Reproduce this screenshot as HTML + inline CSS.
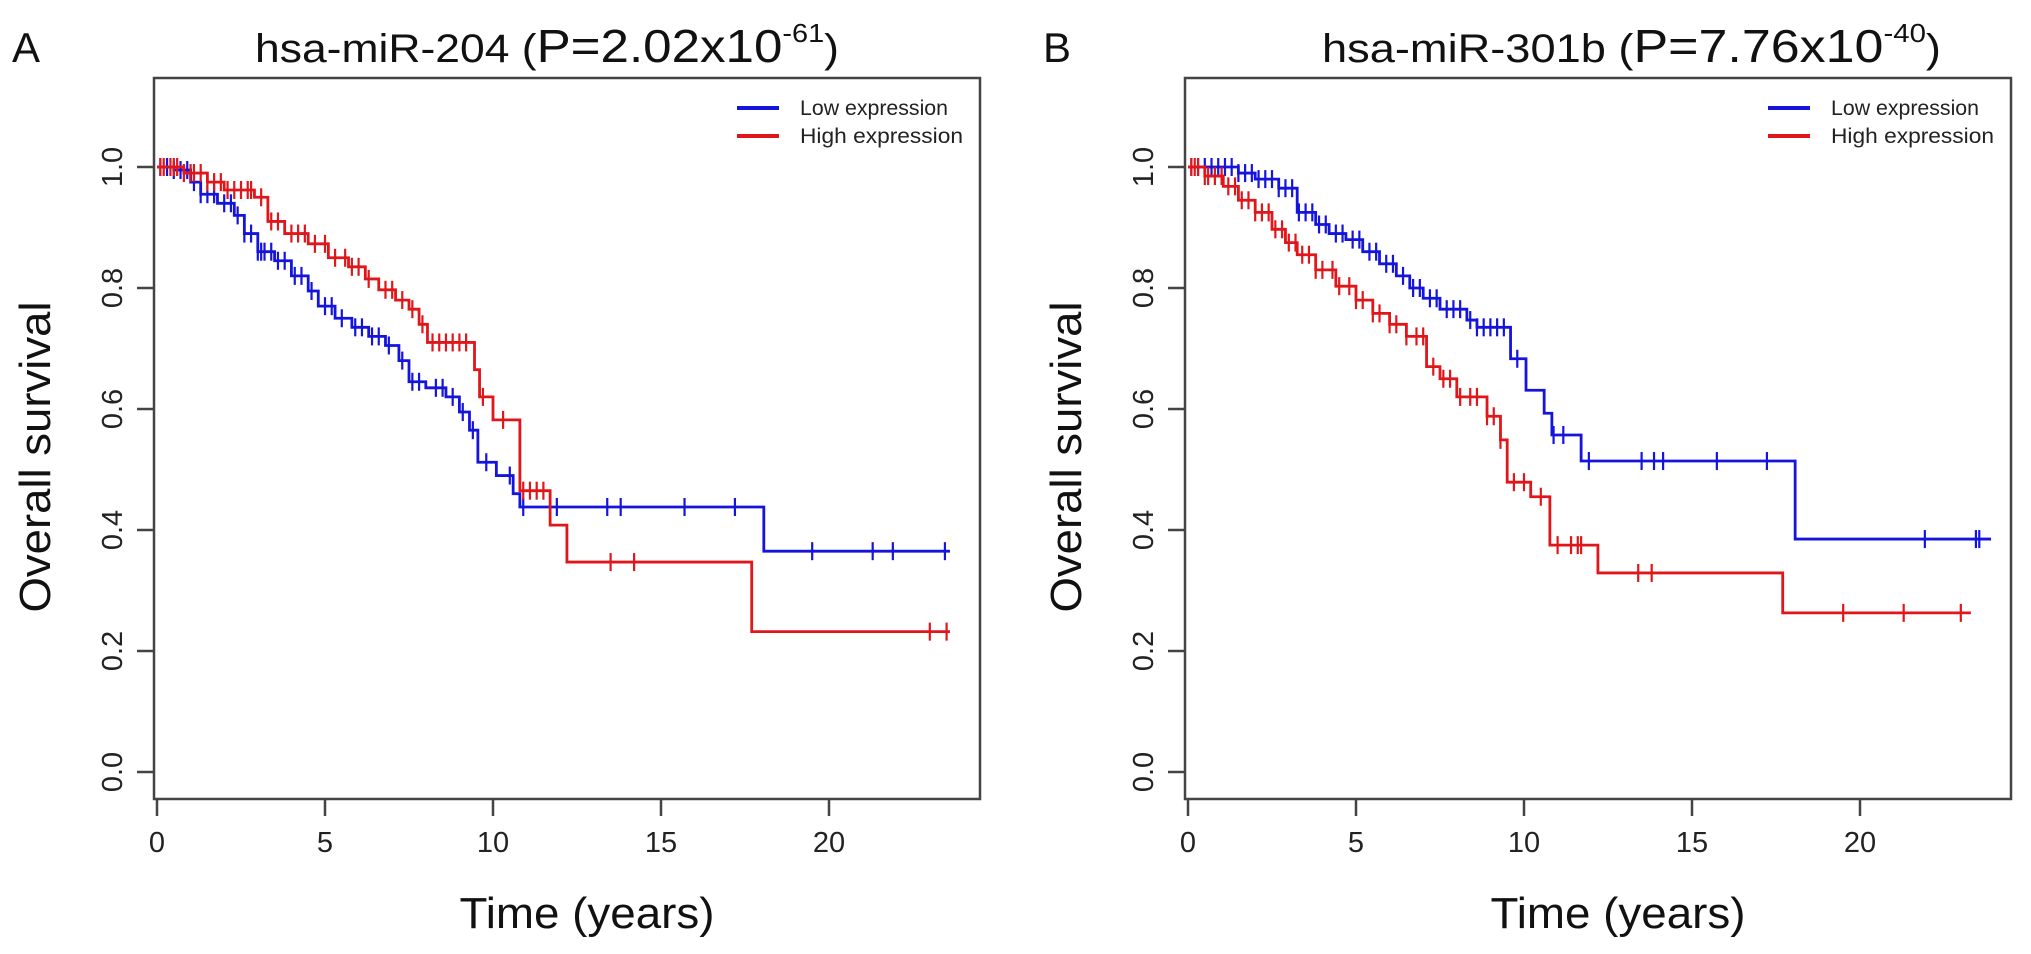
<!DOCTYPE html>
<html><head><meta charset="utf-8"><style>
html,body{margin:0;padding:0;background:#fff;}
svg{display:block;font-family:"Liberation Sans",Arial,sans-serif;}
</style></head><body>
<svg id="fig" width="2031" height="954" viewBox="0 0 2031 954" xmlns="http://www.w3.org/2000/svg"></svg>
<script>
// ---- data ----
const xTicks = [0, 5, 10, 15, 20];
const yTicks = [0.0, 0.2, 0.4, 0.6, 0.8, 1.0];
const yTickLabels = ["0.0", "0.2", "0.4", "0.6", "0.8", "1.0"];
const seriesNames = ["Low expression", "High expression"];

const aLowTimes = [0,0.5,1.0,1.3,1.8,2.3,2.6,3.0,3.5,4.0,4.5,4.8,5.3,5.8,6.3,6.8,7.2,7.5,8.0,8.6,9.0,9.3,9.55,10.1,10.6,10.8,18.06,23.6];
const aLowSurv  = [1.0,0.995,0.975,0.955,0.94,0.92,0.89,0.86,0.845,0.82,0.795,0.77,0.75,0.735,0.72,0.705,0.68,0.645,0.635,0.62,0.595,0.565,0.512,0.49,0.46,0.438,0.365,0.365];
const aLowCens  = [0.1,0.3,0.5,0.7,0.9,1.1,1.3,1.5,1.7,2.0,2.2,2.4,2.6,2.8,3.0,3.1,3.2,3.4,3.6,3.8,4.1,4.3,4.6,5.0,5.2,5.5,5.9,6.1,6.4,6.6,6.9,7.3,7.6,7.8,8.3,8.5,8.8,9.1,9.4,9.8,10.5,10.9,11.9,13.4,13.8,15.7,17.2,19.5,21.3,21.9,23.45];
const aHighTimes = [0,0.8,1.5,2.0,2.9,3.3,3.8,4.5,5.1,5.7,6.2,6.6,7.1,7.5,7.8,8.05,9.45,9.6,10.0,10.8,11.7,12.2,17.7,23.6];
const aHighSurv  = [1.0,0.99,0.975,0.962,0.95,0.91,0.89,0.873,0.85,0.835,0.815,0.797,0.78,0.765,0.74,0.71,0.665,0.62,0.582,0.465,0.408,0.347,0.232,0.232];
const aHighCens  = [0.1,0.2,0.4,0.5,0.6,0.8,1.0,1.1,1.3,1.5,1.7,1.9,2.1,2.3,2.5,2.7,2.8,3.1,3.4,3.6,4.0,4.2,4.4,4.7,5.0,5.3,5.6,5.8,6.0,6.3,6.8,7.0,7.3,7.6,7.9,8.2,8.4,8.6,8.8,9.0,9.2,9.7,10.3,10.9,11.1,11.3,11.5,13.5,14.2,23.0,23.5];

const bLowTimes = [0,1.5,2.0,2.7,3.25,3.8,4.2,4.7,5.2,5.7,6.2,6.6,7.0,7.5,8.3,8.6,9.6,10.06,10.6,10.83,11.7,18.07,23.9];
const bLowSurv  = [1.0,0.99,0.98,0.965,0.925,0.905,0.89,0.88,0.86,0.84,0.82,0.8,0.783,0.765,0.747,0.735,0.683,0.631,0.593,0.557,0.514,0.385,0.385];
const bLowCens  = [0.1,0.3,0.5,0.7,0.9,1.1,1.3,1.5,1.7,1.9,2.1,2.3,2.5,2.7,2.9,3.1,3.3,3.5,3.7,3.9,4.1,4.4,4.6,4.9,5.1,5.4,5.6,5.9,6.1,6.4,6.7,6.9,7.2,7.4,7.7,7.9,8.1,8.4,8.6,8.8,9.0,9.2,9.4,9.8,10.88,11.17,11.93,13.5,13.87,14.14,15.74,17.23,21.93,23.45,23.55];
const bHighTimes = [0,0.5,1.05,1.5,2.0,2.5,2.9,3.25,3.8,4.4,5.0,5.5,6.0,6.5,7.1,7.5,8.0,8.9,9.3,9.5,10.2,10.77,12.2,17.7,23.3];
const bHighSurv  = [1.0,0.985,0.968,0.945,0.925,0.897,0.875,0.855,0.83,0.803,0.78,0.758,0.74,0.72,0.67,0.65,0.62,0.588,0.549,0.479,0.455,0.375,0.329,0.263,0.263];
const bHighCens  = [0.1,0.2,0.3,0.5,0.6,0.8,1.0,1.2,1.4,1.6,1.8,2.0,2.2,2.4,2.6,2.8,3.0,3.2,3.4,3.6,3.8,4.0,4.3,4.5,4.8,5.0,5.2,5.5,5.7,6.0,6.2,6.5,6.8,7.0,7.3,7.6,7.8,8.1,8.4,8.6,8.9,9.1,9.3,9.7,10.0,10.5,11.0,11.4,11.6,11.7,13.4,13.8,19.5,21.3,23.0];

const NS = "http://www.w3.org/2000/svg";
const svg = document.getElementById("fig");
function mk(tag, attrs, parent){const e=document.createElementNS(NS,tag);for(const k in attrs)e.setAttribute(k,attrs[k]);(parent||svg).appendChild(e);return e;}

const BLUE="#1414dc", RED="#e0161a";
function stepAt(times, surv, t){let v=surv[0];for(let i=0;i<times.length;i++){if(times[i]<=t)v=surv[i];}return v;}

function panel(off, label, titleMain, pVal, pExp, titleX, titleW, low, high){
  const g = mk("g",{});
  
  
  const L=154+off, R=980+off, T=78, B=799;
  const x0=157+off, pxPerYear=33.6, y0=772, pxPerUnit=605;
  const X=t=>x0+t*pxPerYear, Y=s=>y0-s*pxPerUnit;

  const lab = mk("text",{x:12+off,y:62,"font-size":42,fill:"#111"},g); lab.textContent=label;
  
  

  const tt = mk("text",{x:titleX,y:62,"font-size":40,fill:"#111",textLength:titleW,lengthAdjust:"spacingAndGlyphs"},g);
  
  
  const s1=mk("tspan",{},tt); s1.textContent=titleMain+" (";
  const s2=mk("tspan",{"font-size":46},tt); s2.textContent="P="+pVal+"x10";
  const s3=mk("tspan",{"font-size":26,dy:-20},tt); s3.textContent=pExp;
  const s4=mk("tspan",{dy:20},tt); s4.textContent=")";

  const box = mk("rect",{x:L,y:T,width:R-L,height:B-T,fill:"none",stroke:"#444","stroke-width":2.5},g);
  
  

  xTicks.forEach(v=>{
    const tk=mk("line",{x1:X(v),x2:X(v),y1:B,y2:B+17,stroke:"#444","stroke-width":2.5},g);
    
    
    const tl=mk("text",{x:X(v),y:852,"font-size":29,"text-anchor":"middle",fill:"#222"},g); tl.textContent=v;
    
    
  });
  yTicks.forEach((v,i)=>{
    const tk=mk("line",{x1:L-17,x2:L,y1:Y(v),y2:Y(v),stroke:"#444","stroke-width":2.5},g);
    
    
    const tl=mk("text",{x:0,y:0,"font-size":29,"text-anchor":"middle",fill:"#222",transform:`translate(${122+off},${Y(v)}) rotate(-90)`},g); tl.textContent=yTickLabels[i];
    
    
  });
  const xt=mk("text",{x:587+off,y:928,"font-size":44,"text-anchor":"middle",fill:"#111",textLength:255,lengthAdjust:"spacingAndGlyphs"},g); xt.textContent="Time (years)";
  
  
  const yt=mk("text",{x:0,y:0,"font-size":44,"text-anchor":"middle",fill:"#111",textLength:311,lengthAdjust:"spacingAndGlyphs",transform:`translate(${50+off},457) rotate(-90)`},g); yt.textContent="Overall survival";
  
  

  [[low,BLUE,"low"],[high,RED,"high"]].forEach(([d,col,nm])=>{
    let p=`M${X(d.t[0])},${Y(d.s[0])}`;
    for(let i=1;i<d.t.length;i++){p+=` H${X(d.t[i])} V${Y(d.s[i])}`;}
    const path=mk("path",{d:p,fill:"none",stroke:col,"stroke-width":2.8},g);
    
    
    d.c.forEach(t=>{
      const yy=Y(stepAt(d.t,d.s,t));
      const cm=mk("line",{x1:X(t),x2:X(t),y1:yy-9,y2:yy+9,stroke:col,"stroke-width":2.2},g);
      
      
    });
  });

  [[BLUE,108,seriesNames[0],148],[RED,136,seriesNames[1],163]].forEach(([col,y,txt,w])=>{
    const ln=mk("line",{x1:737+off,x2:779+off,y1:y,y2:y,stroke:col,"stroke-width":4},g);
    
    
    const lt=mk("text",{x:800+off,y:y+7,"font-size":21,fill:"#222",textLength:w,lengthAdjust:"spacingAndGlyphs"},g); lt.textContent=txt;
    
    
  });
}

panel(0,"A","hsa-miR-204","2.02","-61",255,584,
  {t:aLowTimes,s:aLowSurv,c:aLowCens},{t:aHighTimes,s:aHighSurv,c:aHighCens});
panel(1031,"B","hsa-miR-301b","7.76","-40",1322,619,
  {t:bLowTimes,s:bLowSurv,c:bLowCens},{t:bHighTimes,s:bHighSurv,c:bHighCens});
</script>
</body></html>
